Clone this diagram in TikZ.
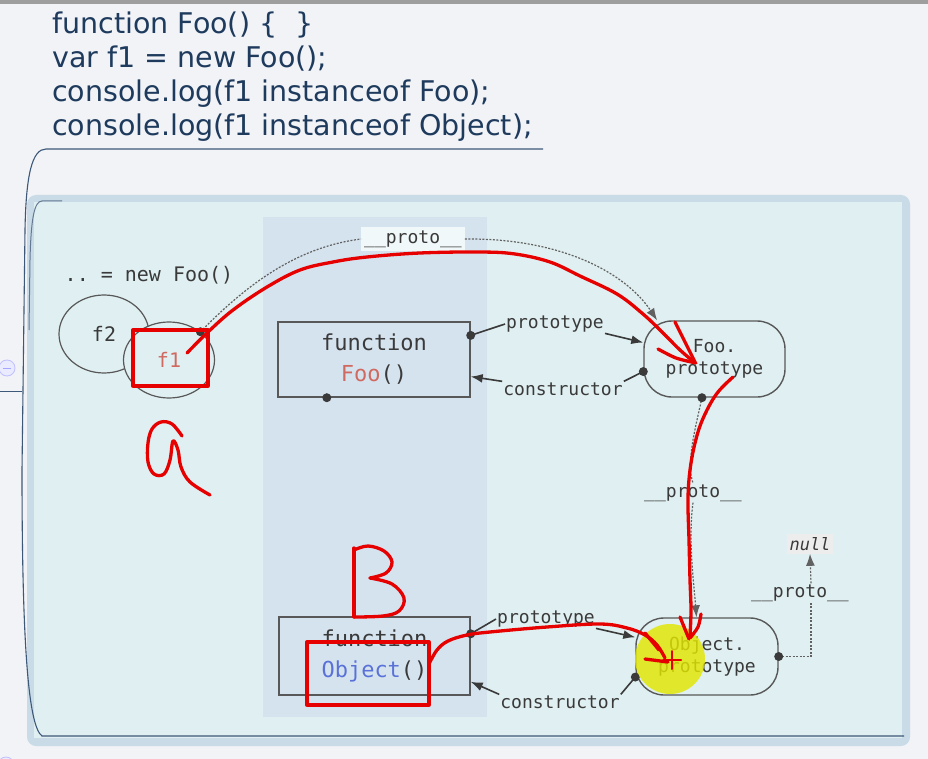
\documentclass[tikz,border=0pt]{standalone}
\usepackage{fontspec}
\setmainfont{DejaVu Sans}
\setmonofont{DejaVu Sans Mono}
\usetikzlibrary{shapes.geometric,arrows.meta}
\definecolor{bgc}{HTML}{F1F3F7}
\definecolor{panelc}{HTML}{E0EFF1}
\definecolor{panelb}{HTML}{C8DBE7}
\definecolor{colc}{HTML}{D5E3EF}
\definecolor{codec}{HTML}{1E3A5C}
\definecolor{ink}{HTML}{3A3A3A}
\definecolor{fooc}{HTML}{D0695F}
\definecolor{objc}{HTML}{5A72D8}
\definecolor{redc}{HTML}{E60000}
\definecolor{hlc}{HTML}{E2E600}
\definecolor{framec}{HTML}{3D5878}
\begin{document}
\begin{tikzpicture}[x=1pt,y=-1pt,
  codetxt/.style={font=\fontsize{28.5}{34}\selectfont, text=codec, inner sep=0pt, anchor=base west},
  lbl/.style={font=\ttfamily\fontsize{18}{20}\selectfont, text=ink, inner sep=1pt},
  fnbox/.style={draw=ink!85, line width=1.4pt, rectangle, align=center,
     font=\ttfamily\fontsize{22}{31}\selectfont, text=ink, inner sep=0pt},
  protobox/.style={draw=ink!85, line width=1.4pt, rectangle, rounded corners=28pt, align=center,
     font=\ttfamily\fontsize{18}{22}\selectfont, text=ink, inner sep=0pt},
  objell/.style={draw=ink!85, line width=1.2pt, ellipse, inner sep=0pt,
     font=\ttfamily\fontsize{20}{22}\selectfont, text=ink},
  conn/.style={draw=ink, line width=1.6pt},
  tipd/.style={-{Latex[length=12pt,width=9pt]}},
  dsh/.style={draw=ink!80, line width=1.2pt, dash pattern=on 2pt off 1.5pt},
  dotr/.style={fill=ink},
  redpen/.style={draw=redc, line width=3.3pt, line cap=round, line join=round}
]
\useasboundingbox (0,0) rectangle (928,759);
\fill[bgc] (0,0) rectangle (928,759);
\fill[black!38] (0,0) rectangle (928,4);

% code
\node[codetxt] (c1) at (52,34) {function Foo() \{\ \ \}};
\node[codetxt] (c2) at (52,68) {var f1 = new Foo();};
\node[codetxt] (c3) at (52,102) {console.log(f1 instanceof Foo);};
\node[codetxt] (c4) at (52,136) {console.log(f1 instanceof Object);};

% panel
\fill[panelb, rounded corners=9pt] (27,195) rectangle (910,746);
\fill[panelc] (34,202) rectangle (902,738);
\fill[colc] (263,217) rectangle (487,717);

% frame lines
\draw[framec, line width=1.1pt] (543,149) -- (46,149) .. controls (32,149) and (26,175) .. (25,230)
   -- (22,470) .. controls (22,640) and (28,726) .. (42,736) -- (904,736);
\draw[framec!80, line width=1pt] (62,201) -- (42,201) .. controls (34,201) and (31,220) .. (30,260) -- (29,330);
\draw[framec, line width=1pt] (0,391) -- (22,391);
\draw[fill=blue!8, draw=blue!25, line width=0.8pt] (7,368) circle[radius=8pt];
\draw[blue!35, line width=0.8pt] (3,368) -- (11,368);
\draw[fill=blue!8, draw=blue!25, line width=0.8pt] (6,765) circle[radius=8pt];

% objects
\node[lbl, font=\ttfamily\fontsize{20}{22}\selectfont] (newfoo) at (149,275) {.. = new Foo()};
\node[objell, minimum width=90pt, minimum height=78pt] (f2) at (104,334) {};
\node[objell, fill=panelc, minimum width=91pt, minimum height=76pt] (f1) at (169,360) {\textcolor{fooc}{f1}};
\node[ink, font=\ttfamily\fontsize{20}{22}\selectfont] at (f2.center) {f2};

\node[fnbox, minimum width=192pt, minimum height=75pt] (foofn) at (374,359.5)
   {function\\\textcolor{fooc}{Foo}()};
\node[protobox, minimum width=141pt, minimum height=76pt] (foop) at (714.5,359)
   {Foo.\\prototype};
\node[fnbox, minimum width=191pt, minimum height=78pt] (objfn) at (374.5,656)
   {function\\\textcolor{objc}{Object}()};
\node[protobox, minimum width=142pt, minimum height=77pt] (objp) at (707,656.5)
   {Object.\\prototype};
\node[lbl, fill=black!7, font=\ttfamily\itshape\fontsize{17}{19}\selectfont, inner sep=3pt] (nullnode) at (810,544) {null};

% labels
\node[lbl, fill=white!55!panelc, inner xsep=3pt, inner ysep=4pt] (l1) at (413,239) {\_\_proto\_\_};
\node[lbl] (l2) at (555,324) {prototype};
\node[lbl] (l3) at (563,389) {constructor};
\node[lbl] (l4) at (693,493) {\_\_proto\_\_};
\node[lbl] (l5) at (546,619) {prototype};
\node[lbl] (l6) at (560,702) {constructor};
\node[lbl] (l7) at (800,593) {\_\_proto\_\_};

% connectors
\draw[dsh] (f1.42) .. controls (240,292) and (290,248) .. (l1.west);
\draw[dsh,tipd] (l1.east) .. controls (560,238) and (625,272) .. (foop.146);
\fill[dotr] (f1.42) circle[radius=4.5pt];

\draw[conn] (foofn.14) -- (l2.west);
\draw[conn,tipd] (l2.south east) -- (foop.167);
\fill[dotr] (foofn.14) circle[radius=4.5pt];

\draw[conn] (foop.190) -- (l3.north east);
\draw[conn,tipd] (l3.north west) -- (foofn.-10);
\fill[dotr] (foop.190) circle[radius=4.5pt];

\fill[dotr] (foofn.219) circle[radius=4.5pt];

\draw[dsh] (foop.252) .. controls (695,430) and (686,462) .. (l4.north);
\draw[dsh,tipd] (l4.south) .. controls (688,540) and (694,585) .. (objp.105);
\fill[dotr] (foop.252) circle[radius=4.5pt];

\draw[conn] (objfn.13) -- (l5.west);
\draw[conn,tipd] (l5.south east) -- (objp.165);
\fill[dotr] (objfn.13) circle[radius=4.5pt];

\draw[conn] (objp.196) -- (l6.north east);
\draw[conn,tipd] (l6.north west) -- (objfn.-15);
\fill[dotr] (objp.196) circle[radius=4.5pt];

\draw[dsh] (objp.east) -| ([xshift=11pt]l7.south);
\draw[dsh,tipd] ([xshift=11pt]l7.north) -- (nullnode.south);
\fill[dotr] (objp.east) circle[radius=4.5pt];

% highlight
\fill[hlc, fill opacity=0.82] (670,659) circle[radius=35pt];

% red annotations
\draw[redpen] (133,330) rectangle (208,386);
\draw[redpen] (307,642) rectangle (429,705);
\draw[redpen] plot[smooth, tension=0.6] coordinates {(187,353) (208,332) (233,310) (267,287) (300,270) (333,262) (367,257) (420,253) (480,252) (515,254) (550,262) (580,276) (617,294) (643,314) (662,332) (680,350) (694,362)};
\draw[redpen] (675,322) -- (695,362);
\draw[redpen] plot[smooth] coordinates {(658,349) (676,358) (696,363)};
\draw[redpen] plot[smooth, tension=0.6] coordinates {(733,377) (718,392) (707,410) (698,432) (691,463) (688,497) (689,540) (690,580) (691,610) (690,636)};
\draw[redpen] (680,617) -- (689,639);
\draw[redpen] plot[smooth] coordinates {(701,614) (698,627) (690,638)};
\draw[redpen] plot[smooth, tension=0.6] coordinates {(429,664) (437,650) (448,641) (467,635) (490,632) (547,627) (600,624) (627,628) (645,635) (657,645) (665,658)};
\draw[redpen] (645,633) -- (659,650);
\draw[redpen] (645,659) -- (668,662);
\draw[redpen, line width=2pt] (663,660) -- (681,660) (672,651) -- (672,669);
\draw[redpen] plot[smooth, tension=0.6] coordinates {(182,436) (172,424) (161,422) (152,429) (148,443) (148,462) (154,474) (164,474) (170,460) (173,441) (178,450) (181,467) (190,482) (210,495)};
\draw[redpen] (354,548) -- (354,617);
\draw[redpen] plot[smooth, tension=0.6] coordinates {(354,550) (368,546) (384,551) (392,562) (386,573) (370,578)};
\draw[redpen] plot[smooth, tension=0.6] coordinates {(370,578) (392,584) (404,598) (399,611) (383,616) (354,617)};
\end{tikzpicture}
\end{document}
